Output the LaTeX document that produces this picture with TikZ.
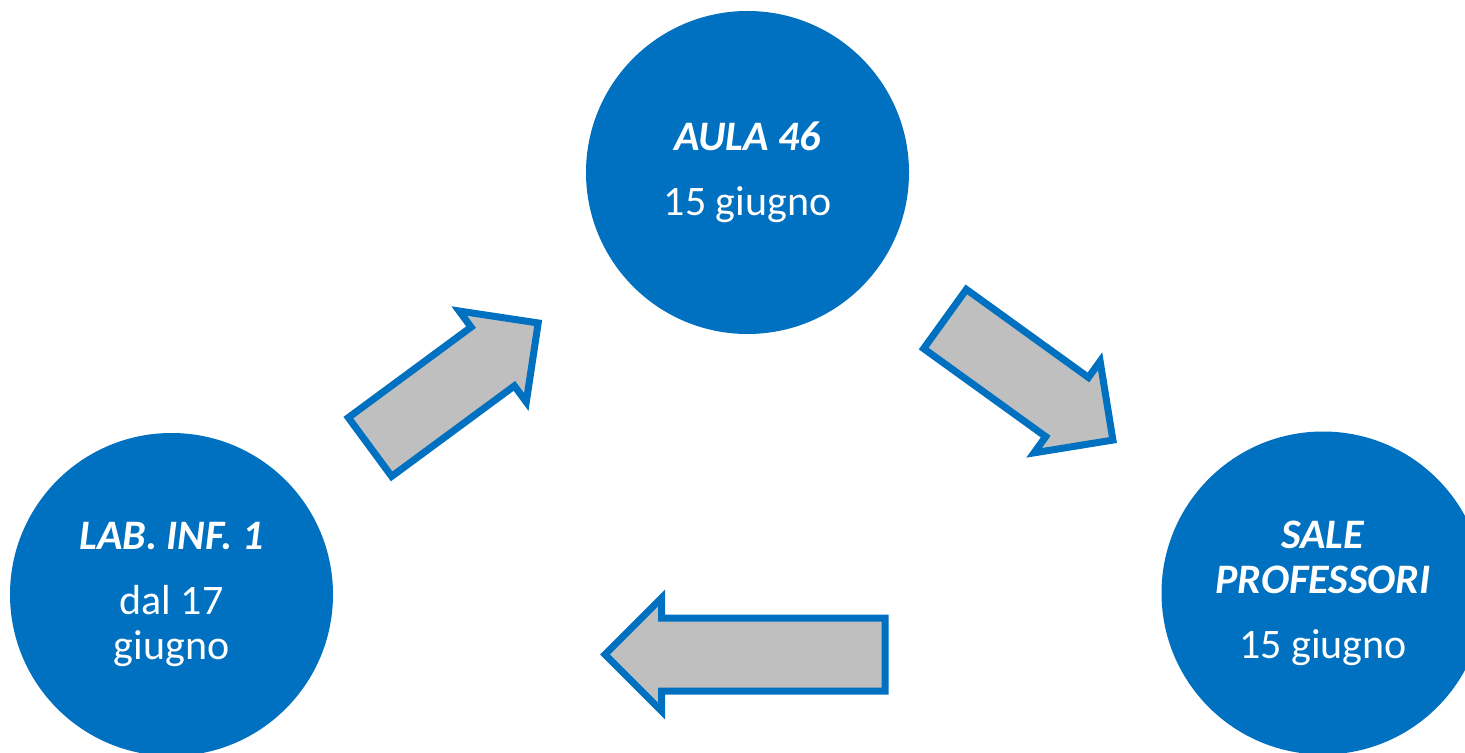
\documentclass[tikz,border=0pt]{standalone}
\usepackage{fontspec}
\setmainfont{Carlito}
\usetikzlibrary{shapes.arrows}
\definecolor{roomblue}{HTML}{0070C0}
\definecolor{arrowgrey}{HTML}{BFBFBF}
\newcommand{\roomname}[1]{\textbf{\textit{#1}}}

\begin{document}
\begin{tikzpicture}[x=0.5pt, y=-0.5pt,
	room/.style={circle, fill=roomblue, minimum size=161.5pt, inner sep=0pt, text=white, align=center, font=\fontsize{21}{22.5}\selectfont},
	move/.style={single arrow, fill=arrowgrey, draw=roomblue, line width=3.5pt, inner sep=16.5pt, outer sep=0pt, single arrow head extend=10pt, anchor=tail}]
	\path[use as bounding box, clip] (0,0) rectangle (1465,753);
	% rooms
	\node[room] (aula) at (747.5,172.5) {\roomname{AULA 46}\\[10pt]15 giugno};
	\node[room] (lab) at (171.5,594.5) {\roomname{LAB. INF. 1}\\[10pt]dal 17\\giugno};
	\node[room] (sale) at (1323,593) {\roomname{SALE}\\\roomname{PROFESSORI}\\[10pt]15 giugno};
	% moves
	\node[move, rotate=36.4, minimum height=104.5pt] (toaula) at (370,447) {};
	\node[move, rotate=-35.8, minimum height=103.5pt] (tosale) at (945,319) {};
	\node[move, rotate=180, minimum height=140pt] (tolab) at (885,654.5) {};
\end{tikzpicture}
\end{document}
